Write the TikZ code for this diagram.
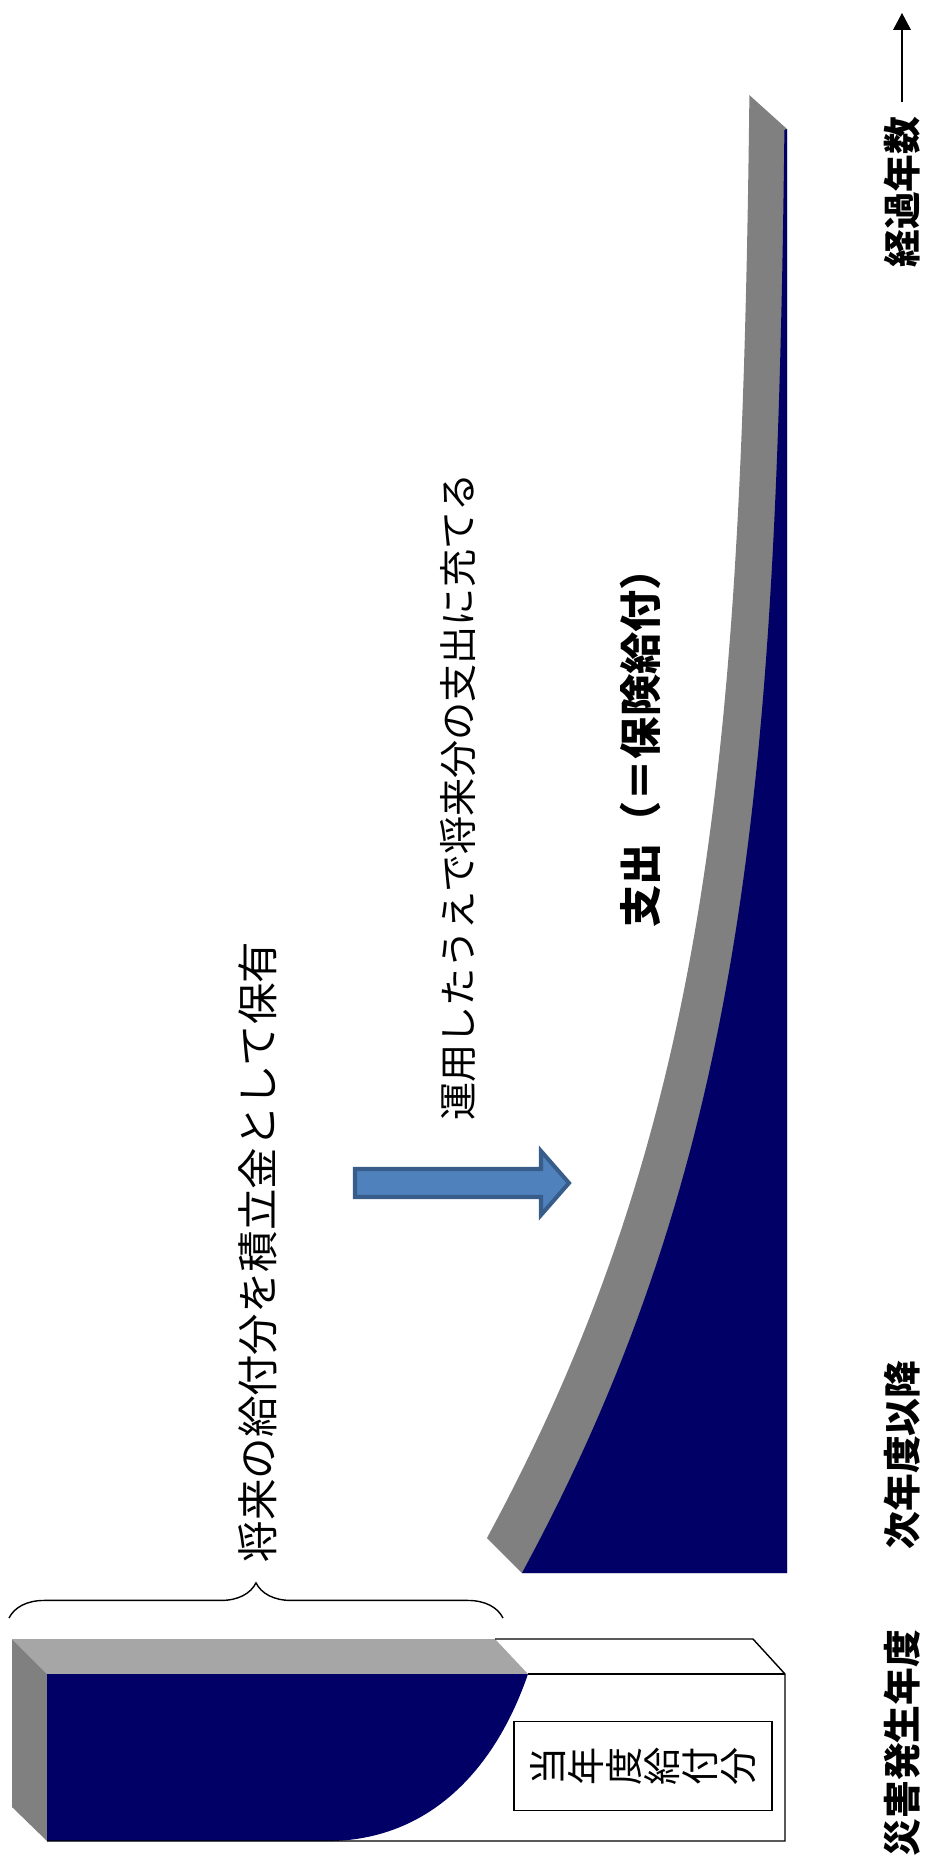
\documentclass[tikz,border=0pt]{standalone}
\usepackage{fontspec}
\setmainfont{Noto Sans CJK JP}
\usetikzlibrary{arrows.meta,decorations.pathreplacing}
\definecolor{navyfill}{HTML}{000066}
\definecolor{bandgray}{HTML}{808080}
\definecolor{topgray}{HTML}{A6A6A6}
\definecolor{arrowblue}{HTML}{4F81BD}
\definecolor{arrowedge}{HTML}{385D8A}
\begin{document}
\begin{tikzpicture}[x=0.02cm,y=-0.02cm,
    boldlabel/.style={rotate=90,inner sep=0pt,font=\fontsize{21.5pt}{21.5pt}\selectfont\bfseries},
    notelabel/.style={rotate=90,inner sep=0pt,font=\fontsize{21.7pt}{21.7pt}\selectfont},
    thinline/.style={line width=0.8pt}]
  \useasboundingbox (0,0) rectangle (925,1874);
  % expense block of later years
  \fill[bandgray] plot[domain=0:1.444,samples=80] ({752-265*exp(-2.044*\x-0.801*\x*\x)},{1538-1000*\x})
    -- (787,129) -- (787,1573) -- (522,1573) -- cycle;
  \fill[navyfill] plot[domain=0:1.444,samples=80] ({787-265*exp(-2.044*\x-0.801*\x*\x)},{1573-1000*\x})
    -- (787,129) -- (787,1573) -- cycle;
  % block of the disaster year
  \fill[topgray] (12,1639) -- (495,1639) -- (528,1674) -- (47,1674) -- cycle;
  \fill[bandgray] (12,1639) -- (47,1674) -- (47,1841) -- (12,1807) -- cycle;
  \fill[navyfill] (47,1674) -- (528,1674) .. controls (495,1770) and (430,1838) .. (333,1841) -- (47,1841) -- cycle;
  \draw[thinline] (495,1639) -- (753,1639) -- (785,1674) -- (785,1841) -- (47,1841);
  \draw[thinline] (528,1674) -- (785,1674);
  \node[draw,thinline,rotate=90,align=center,inner sep=0pt,minimum width=1.78cm,minimum height=5.16cm,
    font=\fontsize{21.7pt}{21.7pt}\selectfont] (currentpay) at (643,1766) {当\\年\\度\\給\\付\\分};
  % brace and reserve note
  \draw[thinline,decorate,decoration={brace,amplitude=20pt}] (9,1618) -- (503,1618);
  \node[notelabel,font=\fontsize{23.6pt}{23.6pt}\selectfont] (reservenote) at (258,1252) {将来の給付分を積立金として保有};
  % block arrow
  \filldraw[fill=arrowblue,draw=arrowedge,line width=2.3pt] (355,1169) -- (541,1169) -- (541,1151) -- (569,1183)
    -- (541,1215) -- (541,1197) -- (355,1197) -- cycle;
  \node[notelabel] (investnote) at (458,797) {運用したうえで将来分の支出に充てる};
  \node[boldlabel,font=\fontsize{24pt}{24pt}\selectfont\bfseries] (expense) at (640,738) {支出（＝保険給付）};
  % axis labels
  \node[boldlabel] (elapsed) at (902,192) {経過年数};
  \node[boldlabel] (nextyears) at (902,1455) {次年度以降};
  \node[boldlabel] (disasteryear) at (902,1743) {災害発生年度};
  \coordinate (axistop) at (902,13);
  \draw[-{Triangle[length=9.6pt,width=10pt]},thinline] ([yshift=8pt]elapsed.east) -- (axistop);
\end{tikzpicture}
\end{document}
